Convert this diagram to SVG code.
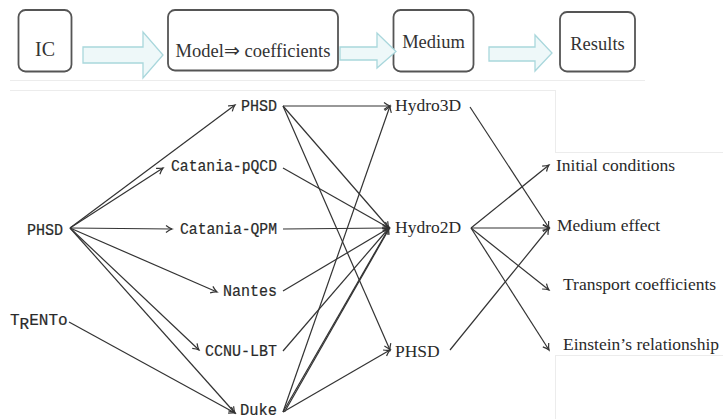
<svg xmlns="http://www.w3.org/2000/svg" width="723" height="419" viewBox="0 0 723 419">
<defs>
<style>
.box{fill:#fff;stroke:#555;stroke-width:1.8}
.bt{font-family:"Liberation Serif","Times New Roman",serif;font-size:18.5px;fill:#333;text-anchor:middle}
.fat{fill:#eef8f9;stroke:#a9d7dc;stroke-width:1.3}
.tt{font-family:"Liberation Mono","Courier New",monospace;font-size:16px;fill:#2a2a2a;stroke:#2a2a2a;stroke-width:0.2;text-anchor:end}
.rm{font-family:"Liberation Serif","Times New Roman",serif;font-size:17.5px;fill:#2a2a2a}
.frame{stroke:#ececec;stroke-width:1;fill:none}
.e{stroke:#333;stroke-width:1.2;fill:none}
.ea{stroke:#333;stroke-width:1.2;fill:none;marker-end:url(#ah)}
</style>
<marker id="ah" viewBox="-8 -5 10 10" markerWidth="10" markerHeight="10" refX="0" refY="0" orient="auto" markerUnits="userSpaceOnUse">
<path d="M -6 -3.5 Q -2.5 -0.8 0 0 Q -2.5 0.8 -6 3.5" fill="none" stroke="#333" stroke-width="1.2"/>
</marker>
</defs>
<rect x="0" y="0" width="723" height="419" fill="#fff"/>
<g id="frames">
<line class="frame" x1="10" y1="80.5" x2="645" y2="80.5"/>
<line class="frame" x1="10" y1="90.5" x2="555" y2="90.5"/>
<line class="frame" x1="555.5" y1="90" x2="555.5" y2="152"/>
<line class="frame" x1="555" y1="152.5" x2="723" y2="152.5"/>
<line class="frame" x1="555" y1="355.5" x2="723" y2="355.5"/>
<line class="frame" x1="555.5" y1="355" x2="555.5" y2="419"/>
</g>
<g id="banner">
<g id="b-ic"><rect class="box" x="18.5" y="10" width="53" height="61.5" rx="7"/><text class="bt" x="45" y="56" style="font-size:20px">IC</text></g>
<g id="b-model"><rect class="box" x="168" y="10" width="170" height="60.5" rx="7"/><text class="bt" x="253" y="57">Model⇒ coefficients</text></g>
<g id="b-medium"><rect class="box" x="393.5" y="10" width="80" height="61.5" rx="7"/><text class="bt" x="433.5" y="48">Medium</text></g>
<g id="b-results"><rect class="box" x="560" y="12" width="75" height="59.5" rx="7"/><text class="bt" x="597.5" y="50">Results</text></g>
<path class="fat" d="M83 47 H143 V32 L163 55 L143 78 V63 H83 Z"/>
<path class="fat" d="M340 47 H377 V33 L396 51.5 L377 68 V60 H340 Z"/>
<path class="fat" d="M489 47 H535 V35 L552 53 L535 71 V61 H489 Z"/>
</g>
<g id="connectors">
<line class="ea" x1="70" y1="228" x2="235" y2="105"/>
<line class="ea" x1="70" y1="228" x2="163" y2="168"/>
<line class="ea" x1="70" y1="228" x2="172" y2="229"/>
<line class="ea" x1="70" y1="228" x2="217" y2="292"/>
<line class="ea" x1="70" y1="228" x2="199" y2="350"/>
<line class="ea" x1="70" y1="228" x2="235" y2="413"/>
<line class="ea" x1="69" y1="322" x2="235" y2="413"/>
<line class="ea" x1="283" y1="106" x2="390" y2="106"/>
<line class="ea" x1="283" y1="106" x2="389" y2="228"/>
<line class="ea" x1="283" y1="106" x2="390" y2="350"/>
<line class="ea" x1="283" y1="168" x2="389" y2="228"/>
<line class="ea" x1="283" y1="229" x2="389" y2="228"/>
<line class="ea" x1="283" y1="291" x2="389" y2="228"/>
<line class="ea" x1="283" y1="351" x2="389" y2="228"/>
<line class="ea" x1="283" y1="412" x2="390" y2="106"/>
<line class="ea" x1="283" y1="412" x2="389" y2="228"/>
<line class="e" x1="284.5" y1="412" x2="389" y2="229"/>
<line class="ea" x1="283" y1="412" x2="390" y2="350"/>
<line class="ea" x1="470" y1="107" x2="549" y2="228"/>
<line class="ea" x1="471" y1="228" x2="549" y2="165"/>
<line class="ea" x1="471" y1="228" x2="549" y2="228"/>
<line class="ea" x1="471" y1="228" x2="549" y2="290"/>
<line class="ea" x1="471" y1="228" x2="549" y2="350"/>
<line class="ea" x1="450" y1="350" x2="549" y2="228"/>
</g>
<g id="n-phsd-src"><text class="tt" x="63" y="235" textLength="36" lengthAdjust="spacingAndGlyphs">PHSD</text></g>
<g id="n-trento"><text class="tt" x="10" y="325" style="text-anchor:start">T<tspan dy="4">R</tspan><tspan dy="-4">ENTo</tspan></text></g>
<g id="n-phsd"><text class="tt" x="277" y="111" textLength="36" lengthAdjust="spacingAndGlyphs">PHSD</text></g>
<g id="n-catania-pqcd"><text class="tt" x="277" y="171" textLength="106" lengthAdjust="spacingAndGlyphs">Catania-pQCD</text></g>
<g id="n-catania-qpm"><text class="tt" x="277" y="234" textLength="97" lengthAdjust="spacingAndGlyphs">Catania-QPM</text></g>
<g id="n-nantes"><text class="tt" x="277" y="296" textLength="54" lengthAdjust="spacingAndGlyphs">Nantes</text></g>
<g id="n-ccnu"><text class="tt" x="277" y="356" textLength="72" lengthAdjust="spacingAndGlyphs">CCNU-LBT</text></g>
<g id="n-duke"><text class="tt" x="277" y="415" textLength="37" lengthAdjust="spacingAndGlyphs">Duke</text></g>
<g id="n-hydro3d"><text class="rm" x="395" y="111">Hydro3D</text></g>
<g id="n-hydro2d"><text class="rm" x="395" y="233">Hydro2D</text></g>
<g id="n-phsd-mid"><text class="rm" x="395" y="357">PHSD</text></g>
<g id="n-initial"><text class="rm" x="556" y="171">Initial conditions</text></g>
<g id="n-medium"><text class="rm" x="557" y="231">Medium effect</text></g>
<g id="n-transport"><text class="rm" x="563" y="290">Transport coefficients</text></g>
<g id="n-einstein"><text class="rm" x="563" y="350">Einstein’s relationship</text></g>
</svg>
